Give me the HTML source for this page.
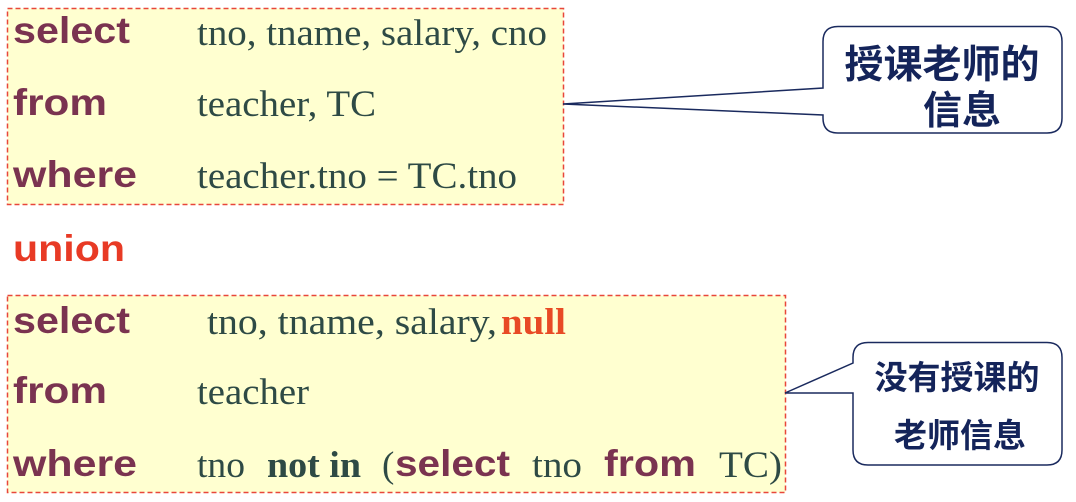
<!DOCTYPE html>
<html><head><meta charset="utf-8"><style>
html,body{margin:0;padding:0;background:#fff;width:1076px;height:502px;overflow:hidden}
.k{font-family:"Liberation Sans",sans-serif;font-weight:bold;fill:#7a3350;font-size:37px}
.v{font-family:"Liberation Serif",serif;fill:#2e4a45;font-size:37px}
.c{font-family:"Liberation Sans","Noto Sans CJK SC",sans-serif;fill:#14245a;font-weight:bold}
</style></head><body>
<svg width="1076" height="502" xmlns="http://www.w3.org/2000/svg">
<rect x="7.5" y="8.5" width="556" height="196" fill="#ffffd0" stroke="#e8473a" stroke-width="1.5" stroke-dasharray="5,3"/>
<rect x="7.5" y="295.5" width="778" height="197" fill="#ffffd0" stroke="#e8473a" stroke-width="1.5" stroke-dasharray="5,3"/>
<text class="k" x="13" y="43" textLength="117" lengthAdjust="spacingAndGlyphs">select</text><text class="v" x="197" y="45" textLength="350" lengthAdjust="spacingAndGlyphs">tno, tname, salary, cno</text>
<text class="k" x="13" y="115" textLength="94" lengthAdjust="spacingAndGlyphs">from</text><text class="v" x="197" y="116" textLength="179" lengthAdjust="spacingAndGlyphs">teacher, TC</text>
<text class="k" x="13" y="187" textLength="124" lengthAdjust="spacingAndGlyphs">where</text><text class="v" x="197" y="188" textLength="320" lengthAdjust="spacingAndGlyphs">teacher.tno = TC.tno</text>
<text class="k" x="13" y="261" textLength="112" lengthAdjust="spacingAndGlyphs" style="fill:#e83a25">union</text>
<text class="k" x="13" y="333" textLength="117" lengthAdjust="spacingAndGlyphs">select</text><text class="v" x="207" y="334" textLength="290" lengthAdjust="spacingAndGlyphs">tno, tname, salary,</text><text class="v" x="501" y="334" textLength="65" lengthAdjust="spacingAndGlyphs" style="fill:#e84a25;font-weight:bold">null</text>
<text class="k" x="13" y="403" textLength="94" lengthAdjust="spacingAndGlyphs">from</text><text class="v" x="197" y="404" textLength="112" lengthAdjust="spacingAndGlyphs">teacher</text>
<text class="k" x="13" y="476" textLength="124" lengthAdjust="spacingAndGlyphs">where</text>
<text class="v" x="197" y="477" textLength="48" lengthAdjust="spacingAndGlyphs">tno</text>
<text class="v" x="267" y="477" textLength="94" lengthAdjust="spacingAndGlyphs" style="font-weight:bold">not in</text>
<text class="v" x="382" y="477">(</text>
<text class="k" x="395" y="476" textLength="115" lengthAdjust="spacingAndGlyphs">select</text>
<text class="v" x="532" y="477" textLength="50" lengthAdjust="spacingAndGlyphs">tno</text>
<text class="k" x="604" y="476" textLength="92" lengthAdjust="spacingAndGlyphs">from</text>
<text class="v" x="719" y="477" textLength="63" lengthAdjust="spacingAndGlyphs">TC)</text>
<path d="M838,26.5 H1047 Q1062,26.5 1062,41.5 V118 Q1062,133 1047,133 H838 Q823,133 823,118 V115 L563,104 L823,88 V41.5 Q823,26.5 838,26.5 Z" fill="#fff" stroke="#1a2a5e" stroke-width="1.5"/>
<path d="M868,342.5 H1047 Q1062,342.5 1062,357.5 V450 Q1062,465 1047,465 H868 Q853,465 853,450 V393 H785 L853,363 V357.5 Q853,342.5 868,342.5 Z" fill="#fff" stroke="#1a2a5e" stroke-width="1.5"/>
<text class="c" x="942" y="78" font-size="39" text-anchor="middle">授课老师的</text>
<text class="c" x="962" y="124" font-size="39" text-anchor="middle">信息</text>
<text class="c" x="957" y="389" font-size="33" text-anchor="middle">没有授课的</text>
<text class="c" x="960" y="447" font-size="33" text-anchor="middle">老师信息</text>
</svg>
</body></html>
